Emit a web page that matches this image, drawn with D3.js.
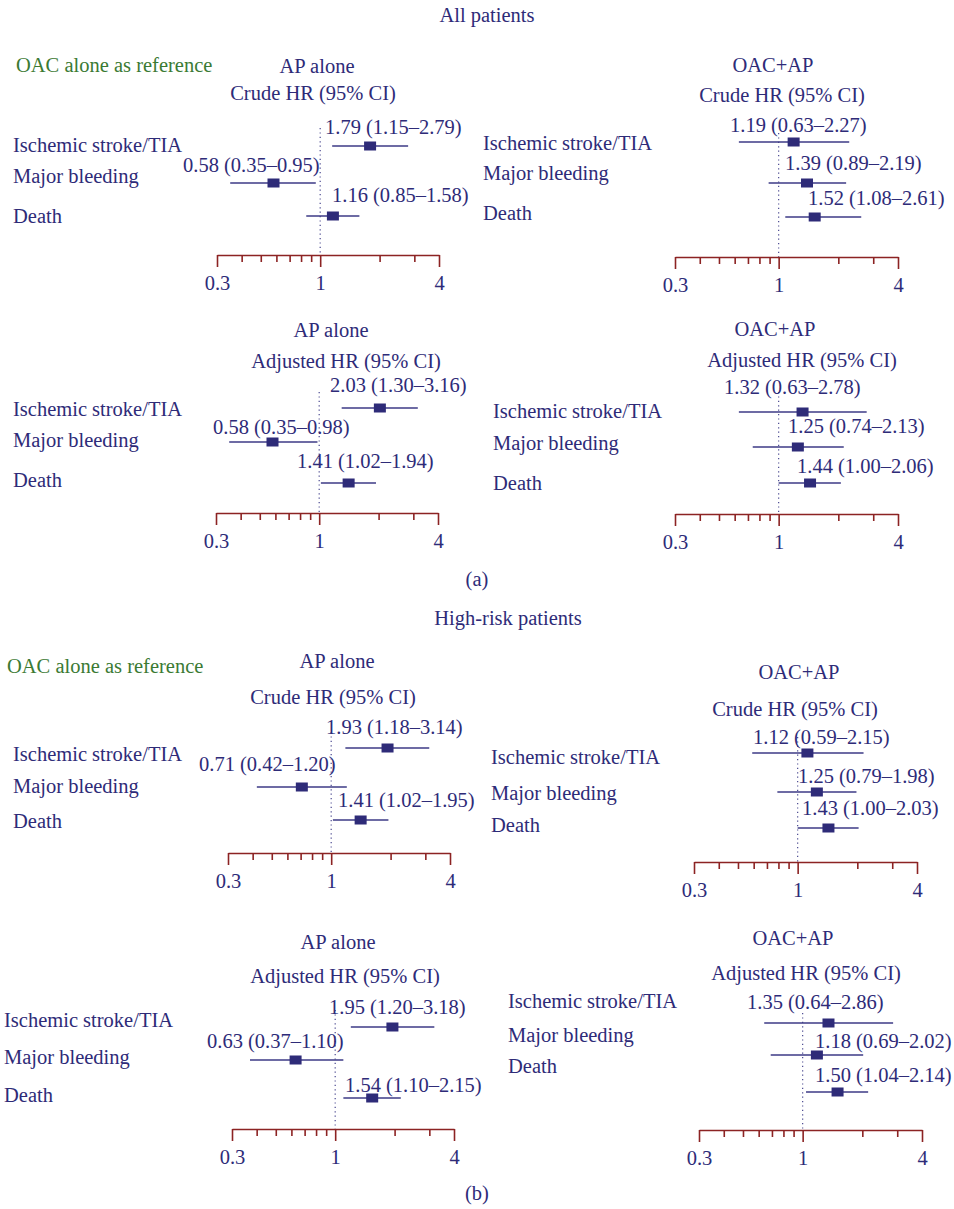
<!DOCTYPE html>
<html>
<head>
<meta charset="utf-8">
<script src="https://cdn.jsdelivr.net/npm/d3@7"></script>
<style>
  body { margin: 0; background: #fff; }
  svg text { font-family: "Liberation Serif", "Times New Roman", serif; font-size: 20.5px; fill: #2e2b78; }
</style>
</head>
<body>
<svg id="chart" width="954" height="1209"></svg>
<script>
// ---------------- DATA ----------------
const outcomes = ["Ischemic stroke/TIA", "Major bleeding", "Death"];
const groupTitles = ["All patients", "High-risk patients"];
const groupTags = ["(a)", "(b)"];
const referenceNote = "OAC alone as reference";
const comparisons = ["AP alone", "OAC+AP", "AP alone", "OAC+AP", "AP alone", "OAC+AP", "AP alone", "OAC+AP"];
const estimateTypes = ["Crude HR (95% CI)", "Crude HR (95% CI)", "Adjusted HR (95% CI)", "Adjusted HR (95% CI)",
                       "Crude HR (95% CI)", "Crude HR (95% CI)", "Adjusted HR (95% CI)", "Adjusted HR (95% CI)"];

// hazard ratios per panel: [stroke, bleeding, death]
const hrAllCrudeAP   = [1.79, 0.58, 1.16];
const loAllCrudeAP   = [1.15, 0.35, 0.85];
const hiAllCrudeAP   = [2.79, 0.95, 1.58];
const hrAllCrudeOAC  = [1.19, 1.39, 1.52];
const loAllCrudeOAC  = [0.63, 0.89, 1.08];
const hiAllCrudeOAC  = [2.27, 2.19, 2.61];
const hrAllAdjAP     = [2.03, 0.58, 1.41];
const loAllAdjAP     = [1.30, 0.35, 1.02];
const hiAllAdjAP     = [3.16, 0.98, 1.94];
const hrAllAdjOAC    = [1.32, 1.25, 1.44];
const loAllAdjOAC    = [0.63, 0.74, 1.00];
const hiAllAdjOAC    = [2.78, 2.13, 2.06];
const hrHighCrudeAP  = [1.93, 0.71, 1.41];
const loHighCrudeAP  = [1.18, 0.42, 1.02];
const hiHighCrudeAP  = [3.14, 1.20, 1.95];
const hrHighCrudeOAC = [1.12, 1.25, 1.43];
const loHighCrudeOAC = [0.59, 0.79, 1.00];
const hiHighCrudeOAC = [2.15, 1.98, 2.03];
const hrHighAdjAP    = [1.95, 0.63, 1.54];
const loHighAdjAP    = [1.20, 0.37, 1.10];
const hiHighAdjAP    = [3.18, 1.10, 2.15];
const hrHighAdjOAC   = [1.35, 1.18, 1.50];
const loHighAdjOAC   = [0.64, 0.69, 1.04];
const hiHighAdjOAC   = [2.86, 2.02, 2.14];

const axisDomain = [0.3, 4];
const majorTicks = [0.3, 1, 4];
const minorTicks = [0.4, 0.5, 0.6, 0.7, 0.8, 0.9, 2, 3];
const majorTickLabels = ["0.3", "1", "4"];

const panelHR = [hrAllCrudeAP, hrAllCrudeOAC, hrAllAdjAP, hrAllAdjOAC, hrHighCrudeAP, hrHighCrudeOAC, hrHighAdjAP, hrHighAdjOAC];
const panelLo = [loAllCrudeAP, loAllCrudeOAC, loAllAdjAP, loAllAdjOAC, loHighCrudeAP, loHighCrudeOAC, loHighAdjAP, loHighAdjOAC];
const panelHi = [hiAllCrudeAP, hiAllCrudeOAC, hiAllAdjAP, hiAllAdjOAC, hiHighCrudeAP, hiHighCrudeOAC, hiHighAdjAP, hiHighAdjOAC];

// ---------------- LAYOUT (positions only) ----------------
const layout = [
  {ax:[217,439,255], t:[317,73], s:[313,100], lx:13,  ly:[152,183,223], ry:[146,183,216], vx:[325,183,332], vy:[134,172,202], d0:128},
  {ax:[675,898,257], t:[773,72], s:[782,102], lx:483, ly:[150,180,220], ry:[142,183,217], vx:[730,785,808], vy:[132,170,205], d0:133},
  {ax:[216,438,513], t:[331,337], s:[346,368], lx:13, ly:[416,447,487], ry:[408,442,483], vx:[330,213,297], vy:[392,434,468], d0:392},
  {ax:[675,898,514], t:[775,336], s:[802,367], lx:493, ly:[418,450,490], ry:[412,447,483], vx:[724,788,797], vy:[394,433,473], d0:392},
  {ax:[228,450,853], t:[337,668], s:[333,704], lx:13, ly:[761,793,828], ry:[748,787,820], vx:[326,199,338], vy:[734,771,807], d0:732},
  {ax:[694,917,862], t:[799,679], s:[795,716], lx:491, ly:[764,800,832], ry:[753,792,828], vx:[753,798,802], vy:[744,783,815], d0:737},
  {ax:[232,454,1129], t:[338,949], s:[345,983], lx:4, ly:[1027,1064,1102], ry:[1027,1060,1098], vx:[329,207,345], vy:[1014,1048,1092], d0:1010},
  {ax:[699,922,1130], t:[793,945], s:[806,980], lx:508, ly:[1008,1042,1073], ry:[1023,1055,1092], vx:[747,815,815], vy:[1009,1048,1082], d0:1013}
];
const groupLayout = [
  {title:[487,22], note:[16,72], tag:[477,586]},
  {title:[508,625], note:[7,673], tag:[477,1200]}
];

const NAVY = "#2e2b78", LINE = "#3c3a86", AXIS = "#8c2323", GREEN = "#3b7a33";

const svg = d3.select("#chart");

groupTitles.forEach((g, i) => {
  const L = groupLayout[i];
  svg.append("text").attr("x", L.title[0]).attr("y", L.title[1]).attr("text-anchor", "middle").text(g);
  svg.append("text").attr("x", L.note[0]).attr("y", L.note[1]).style("fill", GREEN).text(referenceNote);
  svg.append("text").attr("x", L.tag[0]).attr("y", L.tag[1]).attr("text-anchor", "middle").text(groupTags[i]);
});

const fmt = d3.format(".2f");

layout.forEach((L, p) => {
  const g = svg.append("g");
  const x = d3.scaleLog().domain(axisDomain).range([L.ax[0], L.ax[1]]);
  const ay = L.ax[2];

  g.append("text").attr("x", L.t[0]).attr("y", L.t[1]).attr("text-anchor", "middle").text(comparisons[p]);
  g.append("text").attr("x", L.s[0]).attr("y", L.s[1]).attr("text-anchor", "middle").text(estimateTypes[p]);

  // reference line at HR = 1
  g.append("line")
    .attr("x1", x(1)).attr("x2", x(1))
    .attr("y1", L.d0).attr("y2", ay)
    .attr("stroke", "#4a4890").attr("stroke-width", 1.2)
    .attr("stroke-dasharray", "1.2,3.2");

  // axes
  const major = d3.axisBottom(x).tickValues(majorTicks).tickSize(12).tickSizeOuter(0).tickPadding(8)
    .tickFormat((d, i) => majorTickLabels[i]);
  const minor = d3.axisBottom(x).tickValues(minorTicks).tickSize(7).tickSizeOuter(0).tickFormat("");
  const gMinor = g.append("g").attr("transform", `translate(0,${ay})`).call(minor);
  const gMajor = g.append("g").attr("transform", `translate(0,${ay})`).call(major);
  [gMinor, gMajor].forEach(a => {
    a.select(".domain").attr("stroke", AXIS).attr("stroke-width", 1.6);
    a.selectAll(".tick line").attr("stroke", AXIS).attr("stroke-width", 1.6);
    a.selectAll(".tick text").style("fill", NAVY)
      .style("font-family", '"Liberation Serif", "Times New Roman", serif').style("font-size", "20.5px");
  });
  gMinor.select(".domain").remove();

  outcomes.forEach((o, r) => {
    g.append("text").attr("x", L.lx).attr("y", L.ly[r]).text(o);
  });

  const rows = panelHR[p].map((hr, r) => ({hr, lo: panelLo[p][r], hi: panelHi[p][r], r}));

  g.selectAll("line.ci").data(rows).enter().append("line").attr("class", "ci")
    .attr("x1", d => x(d.lo)).attr("x2", d => x(d.hi))
    .attr("y1", d => L.ry[d.r]).attr("y2", d => L.ry[d.r])
    .attr("stroke", LINE).attr("stroke-width", 1.5);

  g.selectAll("rect.pt").data(rows).enter().append("rect").attr("class", "pt")
    .attr("x", d => x(d.hr) - 6).attr("y", d => L.ry[d.r] - 4.5)
    .attr("width", 12).attr("height", 9).attr("fill", NAVY);

  g.selectAll("text.val").data(rows).enter().append("text").attr("class", "val")
    .attr("x", d => L.vx[d.r]).attr("y", d => L.vy[d.r])
    .text(d => `${fmt(d.hr)} (${fmt(d.lo)}–${fmt(d.hi)})`);
});
</script>
</body>
</html>
